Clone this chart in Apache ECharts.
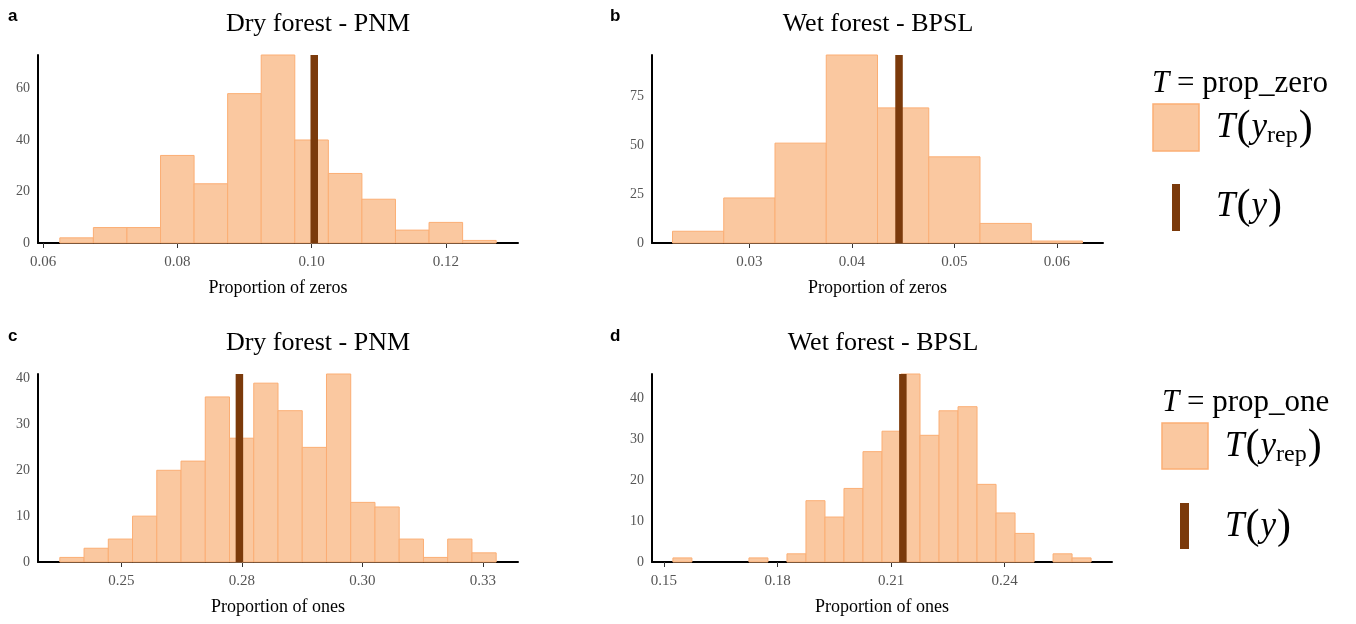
<!DOCTYPE html>
<html>
<head>
<meta charset="utf-8">
<script src="https://cdn.jsdelivr.net/npm/echarts@6/dist/echarts.min.js"></script>
<style>
html,body{margin:0;padding:0;background:#fff;}
#chart{width:1356px;height:624px;}
</style>
</head>
<body>
<div id="chart"></div>
<script>
// ---------- DATA ----------
// Panel a: Dry forest - PNM, proportion of zeros
const binStartA = 0.0625;
const binWidthA = 0.005;
const countsA = [2, 6, 6, 34, 23, 58, 73, 40, 27, 17, 5, 8, 1];
const observedA = 0.1004;
const xTicksA = [0.06, 0.08, 0.10, 0.12];
const xLabelsA = ["0.06", "0.08", "0.10", "0.12"];
const yTicksA = [0, 20, 40, 60];

// Panel b: Wet forest - BPSL, proportion of zeros
const binStartB = 0.0225;
const binWidthB = 0.005;
const countsB = [6, 23, 51, 96, 69, 44, 10, 1];
const observedB = 0.0446;
const xTicksB = [0.03, 0.04, 0.05, 0.06];
const xLabelsB = ["0.03", "0.04", "0.05", "0.06"];
const yTicksB = [0, 25, 50, 75];

// Panel c: Dry forest - PNM, proportion of ones
const binStartC = 0.23726;
const binWidthC = 0.005027;
const countsC = [1, 3, 5, 10, 20, 22, 36, 27, 39, 33, 25, 41, 13, 12, 5, 1, 5, 2];
const observedC = 0.2745;
const xTicksC = [0.25, 0.275, 0.30, 0.325];
const xLabelsC = ["0.25", "0.28", "0.30", "0.33"];
const yTicksC = [0, 10, 20, 30, 40];

// Panel d: Wet forest - BPSL, proportion of ones
const binStartD = 0.15237;
const binWidthD = 0.00502;
const countsD = [1, 0, 0, 0, 1, 0, 2, 15, 11, 18, 27, 32, 46, 31, 37, 38, 19, 12, 7, 0, 2, 1];
const observedD = 0.2131;
const xTicksD = [0.15, 0.18, 0.21, 0.24];
const xLabelsD = ["0.15", "0.18", "0.21", "0.24"];
const yTicksD = [0, 10, 20, 30, 40];

const panelTitles = ["Dry forest - PNM", "Wet forest - BPSL", "Dry forest - PNM", "Wet forest - BPSL"];
const panelLetters = ["a", "b", "c", "d"];
const xNames = ["Proportion of zeros", "Proportion of zeros", "Proportion of ones", "Proportion of ones"];
const legendStats = ["prop_zero", "prop_one"];

// ---------- STYLE ----------
const SERIF = "'Liberation Serif', 'DejaVu Serif', serif";
const FILL = '#FAC8A0';
const EDGE = '#FBAE74';
const OBS = '#7B3A0B';

function bins(start, width, counts) {
  return counts.map((c, i) => [start + i * width, start + (i + 1) * width, c]);
}
function padRange(start, width, n) {
  const lo = start, hi = start + n * width, p = (hi - lo) * 0.05;
  return [lo - p, hi + p];
}

const panels = [
  {start: binStartA, width: binWidthA, counts: countsA, obs: observedA, xt: xTicksA, xl: xLabelsA, yt: yTicksA,
   grid: {left: 38, top: 55, width: 480, height: 188}},
  {start: binStartB, width: binWidthB, counts: countsB, obs: observedB, xt: xTicksB, xl: xLabelsB, yt: yTicksB,
   grid: {left: 652, top: 55, width: 451, height: 188}},
  {start: binStartC, width: binWidthC, counts: countsC, obs: observedC, xt: xTicksC, xl: xLabelsC, yt: yTicksC,
   grid: {left: 38, top: 374, width: 480, height: 188}},
  {start: binStartD, width: binWidthD, counts: countsD, obs: observedD, xt: xTicksD, xl: xLabelsD, yt: yTicksD,
   grid: {left: 652, top: 374, width: 460, height: 188}}
];

const grids = [], xAxes = [], yAxes = [], series = [];
panels.forEach((p, i) => {
  grids.push(Object.assign({containLabel: false}, p.grid));
  const r = padRange(p.start, p.width, p.counts.length);
  xAxes.push({
    type: 'value', gridIndex: i, min: r[0], max: r[1],
    name: xNames[i], nameLocation: 'middle', nameGap: 36,
    nameTextStyle: {fontFamily: SERIF, fontSize: 18, color: '#000'},
    axisLine: {show: true, onZero: false, lineStyle: {color: '#000', width: 2}},
    axisTick: {show: true, length: 5, customValues: p.xt, lineStyle: {color: '#333', width: 1}},
    axisLabel: {
      customValues: p.xt, fontFamily: SERIF, fontSize: 15, color: '#555', margin: 12,
      formatter: v => {
        let k = 0, best = Infinity;
        p.xt.forEach((t, j) => { const d = Math.abs(t - v); if (d < best) { best = d; k = j; } });
        return p.xl[k];
      }
    },
    splitLine: {show: false}
  });
  const ymax = Math.max.apply(null, p.counts);
  yAxes.push({
    type: 'value', gridIndex: i, min: 0, max: ymax,
    axisLine: {show: true, lineStyle: {color: '#000', width: 2}},
    axisTick: {show: false},
    axisLabel: {customValues: p.yt, fontFamily: SERIF, fontSize: 14, color: '#555', margin: 8},
    splitLine: {show: false}
  });
  // replicated statistic histogram
  series.push({
    type: 'custom', xAxisIndex: i, yAxisIndex: i,
    data: bins(p.start, p.width, p.counts),
    renderItem: (params, api) => {
      const h = api.value(2);
      if (!h) return null;
      const a = api.coord([api.value(0), 0]);
      const b = api.coord([api.value(1), h]);
      return {
        type: 'rect',
        shape: {x: a[0], y: b[1], width: b[0] - a[0], height: a[1] - b[1]},
        style: {fill: FILL, stroke: EDGE, lineWidth: 1}
      };
    },
    silent: true,
    z: 2
  });
  // observed statistic T(y)
  series.push({
    type: 'custom', xAxisIndex: i, yAxisIndex: i,
    data: [[p.obs, ymax]],
    renderItem: (params, api) => {
      const a = api.coord([api.value(0), 0]);
      const b = api.coord([api.value(0), api.value(1)]);
      const w = 7.5;
      return {
        type: 'rect',
        shape: {x: a[0] - w / 2, y: b[1], width: w, height: a[1] - b[1]},
        style: {fill: OBS}
      };
    },
    silent: true,
    z: 3
  });
});

// ---------- TITLES / LETTERS / LEGENDS ----------
const graphics = [];
const titlePos = [[318, 24], [878, 24], [318, 343], [883, 343]];
const letterPos = [[8, 16], [610, 16], [8, 336], [610, 336]];
panelTitles.forEach((t, i) => {
  graphics.push({type: 'text', x: titlePos[i][0], y: titlePos[i][1],
    style: {text: t, font: '26px ' + SERIF, fill: '#000', textAlign: 'center', textVerticalAlign: 'middle'}});
  graphics.push({type: 'text', x: letterPos[i][0], y: letterPos[i][1],
    style: {text: panelLetters[i], font: 'bold 17px "Liberation Sans", Arial, sans-serif', fill: '#000', textAlign: 'left', textVerticalAlign: 'middle'}});
});

const rich = {
  hit: {fontFamily: SERIF, fontStyle: 'italic', fontSize: 31, fill: '#000'},
  hrm: {fontFamily: SERIF, fontSize: 31, fill: '#000'},
  it: {fontFamily: SERIF, fontStyle: 'italic', fontSize: 35, fill: '#000'},
  par: {fontFamily: SERIF, fontSize: 42, fill: '#000', padding: [0, 1, 0, 1]},
  sub: {fontFamily: SERIF, fontSize: 24, fill: '#000', padding: [16, 0, 0, 0]}
};
function legend(x0, yHead, sq, bar, txtX, yRep, yObs, stat) {
  graphics.push({type: 'text', x: x0, y: yHead,
    style: {text: '{hit|T}{hrm| = ' + stat + '}', rich: rich, textAlign: 'left', textVerticalAlign: 'middle'}});
  graphics.push({type: 'rect', shape: {x: sq[0], y: sq[1], width: sq[2], height: sq[3]},
    style: {fill: FILL, stroke: EDGE, lineWidth: 1.5}});
  graphics.push({type: 'text', x: txtX, y: yRep,
    style: {text: '{it|T}{par|(}{it|y}{sub|rep}{par|)}', rich: rich, textAlign: 'left', textVerticalAlign: 'middle'}});
  graphics.push({type: 'rect', shape: {x: bar[0], y: bar[1], width: bar[2], height: bar[3]},
    style: {fill: OBS}});
  graphics.push({type: 'text', x: txtX, y: yObs,
    style: {text: '{it|T}{par|(}{it|y}{par|)}', rich: rich, textAlign: 'left', textVerticalAlign: 'middle'}});
}
legend(1152, 84, [1153, 104, 46, 47], [1172, 184, 8, 47], 1216, 128, 207, legendStats[0]);
legend(1162, 403, [1162, 423, 46, 46], [1180, 503, 9, 46], 1225, 447, 527, legendStats[1]);

const chart = echarts.init(document.getElementById('chart'), null, {renderer: 'canvas'});
chart.setOption({
  animation: false,
  backgroundColor: '#fff',
  grid: grids,
  xAxis: xAxes,
  yAxis: yAxes,
  series: series,
  graphic: graphics
});
</script>
</body>
</html>
